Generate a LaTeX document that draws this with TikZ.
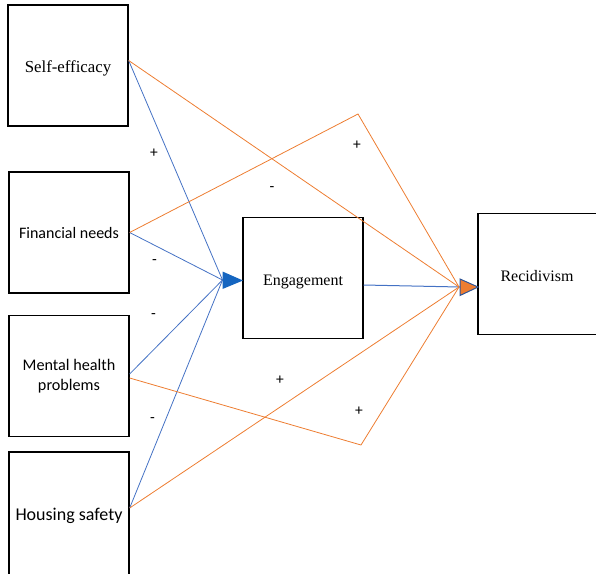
\documentclass[tikz,border=0pt]{standalone}
\usepackage{fontspec}
\setmainfont{Liberation Serif}
\newfontfamily\calib{Carlito}
\definecolor{lblue}{HTML}{4472C4}
\definecolor{dblue}{HTML}{1565C0}
\definecolor{lorange}{HTML}{ED7D31}
\definecolor{bord}{HTML}{2F5597}
\newcommand{\lowr}[2]{\raisebox{-#1}[\height][\depth]{#2}}
\begin{document}
\begin{tikzpicture}[x=1pt,y=-1pt,
  box/.style={draw=black,line width=1.3pt,minimum width=120pt,minimum height=121pt,inner sep=0pt,align=center},
  bl/.style={draw=lblue,line width=0.8pt},
  ol/.style={draw=lorange,line width=0.8pt},
  sign/.style={font=\calib\fontsize{15.5}{17}\selectfont,inner sep=0pt}]
\useasboundingbox (0,0) rectangle (596,573);
\node[box,font=\fontsize{16.8}{19}\selectfont] (se) at (68,65.5) {\lowr{3pt}{Self-efficacy}};
\node[box,font=\calib\fontsize{16}{18}\selectfont] (fn) at (69,232.5) {Financial needs};
\node[box,font=\calib\fontsize{16.2}{20}\selectfont] (mh) at (69,376) {Mental health\\problems};
\node[box,minimum height=124pt,font=\calib\fontsize{18}{21}\selectfont] (hs) at (69,514) {\lowr{2pt}{Housing safety}};
\node[box,font=\fontsize{16}{18}\selectfont] (eng) at (303,278) {\lowr{4pt}{Engagement}};
\node[box,font=\fontsize{16}{18}\selectfont] (rec) at (538,274) {\hspace*{-2pt}\lowr{2pt}{Recidivism}};
\coordinate (ein) at (222.5,280);
\coordinate (rin) at (459,287);
\coordinate (rbase) at (460,287);
\coordinate (rtip) at (478,287);
\coordinate (top) at (358,114);
\coordinate (bot) at (361,445);
% blue lines to engagement
\draw[bl] ([yshift=5pt]se.east) -- (ein);
\draw[bl] (fn.east) -- (ein);
\draw[bl] ([yshift=2pt]mh.east) -- (ein);
\draw[bl] ([yshift=6pt]hs.east) -- (ein);
\fill[dblue] (222.5,271.5) -- (243,280.5) -- (222.5,289) -- cycle;
% engagement to recidivism
\draw[bl,line width=1pt] ([yshift=-7pt]eng.east) -- (rbase);
% orange lines to recidivism
\draw[ol] ([yshift=5pt]se.east) -- (rin);
\draw[ol] (fn.east) -- (top) -- (rin);
\draw[ol] ([yshift=-2pt]mh.east) -- (bot) -- (rin);
\draw[ol] ([yshift=6pt]hs.east) -- (rin);
\filldraw[fill=lorange,draw=bord,line width=1pt,line join=miter] (460,279) -- (rtip) -- (460,295.5) -- cycle;
% signs
\node[sign] (s1) at (154,153.5) {+};
\node[sign] (s2) at (154.5,262) {-};
\node[sign] (s3) at (153.5,316) {-};
\node[sign] (s4) at (152.5,420) {-};
\node[sign] (s5) at (272,189) {-};
\node[sign] (s6) at (357,145) {+};
\node[sign] (s7) at (280,380) {+};
\node[sign] (s8) at (359,411.5) {+};
\end{tikzpicture}
\end{document}
